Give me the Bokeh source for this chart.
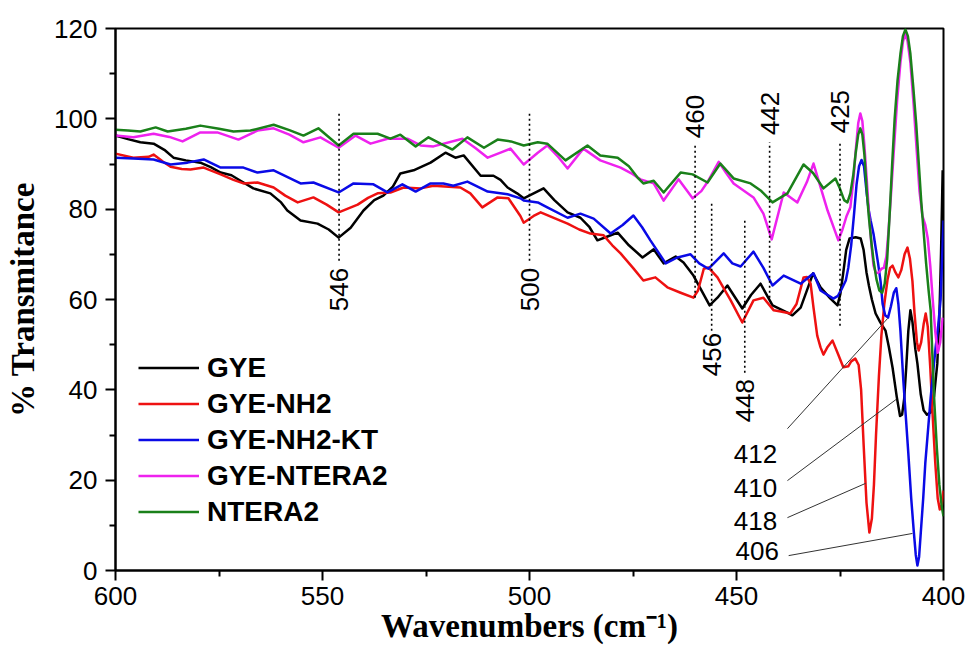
import math
from bokeh.plotting import figure
from bokeh.models import Range1d, FixedTicker, Legend, LegendItem
from bokeh.core.properties import value
from bokeh.embed import file_html
from bokeh.resources import INLINE

# ---------------- data ----------------
gye_x = [600, 597, 594, 590.8, 588, 586, 583, 579.5, 577, 574.6, 572, 569.8, 566.7, 562.6, 560, 558.5,
         555.3, 551.2, 548.5, 546.1, 543.2, 540.1, 537.5, 535.3, 533, 531.2, 528, 523.9, 520.3, 517.9,
         515.9, 511.8, 508.7, 507, 505.3, 503, 501.4, 499, 496.6, 494, 490.8, 487.7, 485.5, 483.6, 481,
         478.7, 476, 472.7, 470, 467.6, 464.7, 462.8, 460.4, 458.7, 456.5, 454.6, 452.2, 448.6, 446.5,
         444.2, 441.3, 437.7, 436.5, 434.5, 431.5, 429.7, 427.3, 425.6, 424.9, 424.2, 423.5, 422.7, 421.2,
         420, 419.3, 418.6, 418, 417.3, 416.4, 415.3, 414, 413.2, 412.3, 411.3, 410.5, 410, 409.5, 409,
         408.5, 408, 407.5, 406.8, 406.3, 405.5, 404.8, 404, 403.1, 402.3, 401.5, 401, 400.6, 400.2]
gye_y = [96.3, 95.5, 94.8, 94.5, 93, 91.4, 90.8, 90.3, 89.3, 88.1, 87.5, 86.3, 84.6, 83.5, 81.5, 79.7,
         77.5, 76.8, 75.5, 73.7, 75.9, 79.7, 82, 83, 85, 87.9, 88.6, 90.3, 92.5, 91.4,
         91.9, 87.4, 87.4, 86.5, 84.8, 83.5, 82.4, 83.5, 84.6, 82, 79.3, 78.1, 76, 73.1, 74,
         74.8, 72, 69.3, 71.1, 68, 69.5, 68.2, 65.3, 62.4, 58.7, 60.4, 63.1, 58, 61,
         63.5, 58.7, 57.1, 56.5, 58.2, 65.8, 62.7, 60.2, 58.7, 61.3, 66, 71, 73.5, 73.8,
         73.5, 71, 66, 63, 60, 56.9, 55, 53.1, 49.5, 44.9, 38.5, 34.2, 34.5, 38, 45,
         53, 57.6, 55, 49, 45.8, 39, 35.5, 34.5, 35, 38.5, 45.8, 56, 70, 88.6]

nh2_x = [600, 595.7, 592, 590.8, 588.5, 586.7, 584, 581.9, 578.7, 574.6, 571.5, 569.1, 565.7, 561.8, 559,
         556, 552.2, 549, 546.1, 541.5, 539, 536.7, 533.6, 530.4, 526.3, 523.2, 516.7, 514.3, 511.4,
         507.7, 505.1, 502.2, 501.4, 499, 497.3, 494, 490.8, 488, 485.3, 482.1, 480, 478, 475, 472.5,
         469.6, 466.7, 463.5, 460.4, 459.3, 457.9, 456.8, 454.6, 451.4, 448.6, 445.9, 443.5, 441, 439,
         437, 435.5, 433.8, 433, 432.1, 431.4, 430.5, 429.7, 429, 428, 426.8, 425.5, 424.2, 423, 422.3,
         421.3, 420.5, 419.9, 419.3, 418.6, 417.9, 417.3, 416.8, 416.3, 415.6, 415, 414.3, 413.5, 412.9,
         412.3, 411.6, 410.9, 410.2, 409.4, 408.7, 408.1, 407.5, 407, 406.4, 406, 405.4, 404.8, 404.3,
         403.8, 403.2, 402.6, 402, 401.4, 400.9, 400.4, 400]
nh2_y = [92.3, 91.4, 91.6, 92.1, 90.5, 89.4, 88.9, 88.8, 89.2, 87.7, 86.5, 85.7, 85.9, 84.8, 83,
         81.5, 82.6, 81, 79.3, 81, 82.5, 83.5, 83.7, 84.8, 84.6, 85.2, 84.8, 83.5, 80.4,
         82.6, 82.4, 78.5, 77, 78.5, 79.3, 78, 76.8, 75.5, 74.6, 74.2, 72, 70.2, 67, 64.2,
         64.9, 62.7, 61.5, 60.4, 62, 66.8, 67.1, 64.9, 59.8, 54.9, 59.8, 60.4, 57.6, 57.3,
         56.9, 59, 64.9, 65, 63.5, 58.2, 52, 49.4, 47.8, 49.5, 50.9, 48, 45, 45.2, 46.3,
         46.9, 45.5, 40, 28, 15, 8.4, 11.5, 19, 30, 43, 52, 59, 64.5, 67,
         67.5, 66, 64.9, 66.5, 70, 71.5, 69, 64, 57, 50.5, 48.7, 50.5, 54.5, 56.9,
         54, 45, 34, 24, 16, 13.5, 14.5, 17.7]

kt_x = [600, 595.7, 590.8, 586.7, 582.6, 578.7, 574.6, 569.1, 565.7, 561.8, 555.3, 552.2, 546.1, 542.5,
        537.7, 534.3, 530.7, 527.5, 523.9, 520.8, 518.4, 515, 510.1, 505.3, 502.2, 501.4, 498, 495.7,
        490.8, 487.7, 484.5, 480.4, 477.5, 474.9, 472.8, 470.8, 467.1, 464.3, 461.1, 459, 456.8, 453.1,
        451, 449, 445.9, 443.5, 441.3, 438.6, 434.5, 431.4, 429.7, 426.6, 425.5, 424.5, 423.6, 423,
        422.3, 421.6, 421, 420.4, 419.8, 419.2, 418.6, 418.1, 417.6, 416.9, 416.4, 415.8, 415.2, 414.7,
        414.1, 413.4, 412.7, 412, 411.4, 410.9, 410.4, 409.7, 409.1, 408.5, 407.8, 407.2, 406.7, 406.3,
        405.9, 405.5, 404.9, 404.4, 403.7, 403.1, 402.5, 401.9, 401.3, 400.7, 400.3, 400]
kt_y = [91.4, 91.2, 91, 89.9, 90.3, 91, 89.2, 89.2, 88.1, 88.6, 85.7, 85.9, 83.7, 85.7,
        85.5, 83.7, 85.5, 83.9, 85.7, 85.7, 85.2, 86.1, 83.9, 83.3, 82.4, 81.9, 81.5, 80.4,
        78.1, 79, 77.9, 74.6, 76.5, 78.6, 76, 73.1, 68, 69.3, 70, 68, 66.8, 70.2,
        68, 67.3, 70.6, 67, 63.1, 65.3, 63.5, 65.8, 62, 60.2, 60.8, 62.5, 64.2, 67,
        72, 79, 85.5, 89.5, 90.9, 89.5, 84, 80, 77.5, 74.5, 71.5, 68, 64, 59,
        56.5, 56, 58.5, 61.5, 62.5, 59, 53, 42, 34, 26, 16, 8.9, 3.5, 1.1,
        3, 8.2, 16, 23.7, 31.5, 38.3, 44, 49.4, 54, 60, 70, 77.5]

gn_x = [600, 595.7, 590.8, 587, 583.8, 579.5, 575.4, 570.3, 565.7, 561.8, 558, 554.6, 550.5, 546.1, 542,
        538.4, 534.3, 529.5, 526.3, 523.2, 516.2, 513, 510.1, 507, 504.6, 501.4, 498, 495.7, 493,
        490.8, 487, 482.9, 478, 475.5, 473.2, 470, 467.6, 464, 460.6, 458.5, 456.8, 454.3, 452.5,
        450.7, 445.9, 443.5, 441.5, 438.6, 435.3, 433, 431.4, 428, 425.4, 424.4, 423.4, 422.5, 421.8,
        421.2, 420.6, 420.1, 419.6, 419.1, 418.5, 418, 417.4, 416.9, 416.3, 415.6, 415, 414.4, 413.8,
        413.3, 412.7, 412, 411.2, 410.4, 409.8, 409.3, 408.7, 408, 407.2, 406.4, 405.8, 405.1, 404.4,
        403.8, 403.2, 402.6, 402, 401.4, 400.8, 400.2]
gn_y = [96.3, 95.9, 96.7, 96, 95, 97, 97, 95.4, 97.4, 97.9, 96.5, 94.8, 95.9, 93.6, 96.3,
        94.5, 95.6, 95.6, 94.1, 93.9, 95.6, 93.5, 91.4, 92.5, 93.4, 89.9, 92.5, 94.1, 91.5,
        89, 93.4, 90.8, 89.2, 88, 86.6, 85.7, 81.9, 86.6, 82.4, 84, 86.3, 90.5, 88,
        85.7, 82.6, 79, 73.3, 83.7, 81.5, 86, 90.1, 79.7, 73.1, 75.5, 78.5, 80.4, 86,
        93, 99, 101.2, 99.5, 94, 86, 79, 72, 67.5, 65.8, 66, 66.8, 67, 69.5,
        75, 83, 93, 104, 112.5, 117, 118.8, 117.3, 112.5, 103, 92, 84, 78.5, 76.5,
        73.5, 67.5, 60, 53, 48.2, 50.5, 56]

nt_x = [600, 597, 594, 590.3, 587.4, 583, 579.5, 575, 571.5, 567.4, 561.8, 558, 554.6, 551, 546.1,
        542.5, 536.7, 533.6, 531.2, 527.5, 524.4, 521.5, 518.6, 515, 511, 507.7, 504.5, 501.4, 498,
        495.7, 491.3, 486, 482.9, 478.7, 476, 473.9, 472.5, 470, 467.6, 463.5, 460.6, 457, 453.9,
        450.7, 446.6, 444, 441.3, 437.7, 433.8, 431.5, 429, 426.1, 425, 424, 423.2, 422.5, 421.8,
        421.2, 420.6, 420.1, 419.6, 419.1, 418.5, 418, 417.4, 416.9, 416.2, 415.5, 414.8, 414.2, 413.6,
        413, 412.4, 411.8, 411.1, 410.4, 409.8, 409.2, 408.6, 408, 407.3, 406.6, 406, 405.4, 404.8,
        404.2, 403.6, 403.1, 402.7, 402.2, 401.6, 401, 400.4, 400]
nt_y = [97.6, 97.4, 97.2, 98.1, 97.2, 97.8, 98.5, 97.8, 97.2, 97.4, 98.7, 97.5, 96.3, 97.9, 94.1,
        96.7, 96.7, 95.6, 96.5, 93.9, 95.9, 94.5, 93.2, 95.9, 93.6, 95.4, 95, 94.1, 94.8,
        94.5, 90.8, 94.1, 91.9, 91.4, 89.5, 87, 85.7, 86.3, 83.7, 88.1, 87.7, 85.9, 90.1,
        86.8, 85.7, 84, 81.5, 83.5, 89.9, 88, 84.6, 86.8, 84.5, 82, 81.5, 83.5, 87.5,
        92.5, 96.5, 97.9, 96.5, 92, 83.5, 78, 72.5, 68.6, 64.5, 62, 61.5, 63.5, 69,
        79, 90, 100, 108.5, 114.4, 118.3, 119.8, 118.3, 114.4, 107, 99, 90.5, 82, 75,
        68, 62, 57.6, 48, 37, 27, 19, 14, 12]

series_names = ["GYE", "GYE-NH2", "GYE-NH2-KT", "GYE-NTERA2", "NTERA2"]
series_x = [gye_x, nh2_x, kt_x, gn_x, nt_x]
series_y = [gye_y, nh2_y, kt_y, gn_y, nt_y]
series_colors = ["#000000", "#ee1111", "#0a0ae6", "#ee22ee", "#1a801a"]

# peak marks (wavenumber) and callout label texts
peak_marks = [546, 500, 460, 456, 448, 442, 425]
callout_texts = ["412", "410", "418", "406"]

x_ticks = [600, 550, 500, 450, 400]
x_minor = [575, 525, 475, 425]
y_ticks = [0, 20, 40, 60, 80, 100, 120]
y_minor = [10, 30, 50, 70, 90, 110]

# ---------------- layout / style ----------------
mark_y0 = [68.6, 68.6, 60.4, 53.1, 43.8, 60.4, 54.2]
mark_y1 = [101.8, 101.8, 94.1, 81.2, 77.5, 94.8, 94.5]
mark_label_y = [62.2, 62.2, 100.5, 47.8, 37.6, 101.2, 101.6]
call_tx = [445.4, 445.4, 445.4, 445.0]
call_ty = [25.9, 18.3, 11.0, 4.3]
lead_x0 = [437.7, 437.7, 437.7, 437.4]
lead_y0 = [31.4, 19.9, 11.7, 3.3]
lead_x1 = [413.5, 411.4, 418.8, 407.5]
lead_y1 = [55.8, 37.9, 19.3, 8.2]

SANS = "Liberation Sans"
SERIF = "Liberation Serif"

p = figure(width=968, height=650, output_backend="svg", toolbar_location=None,
           x_range=Range1d(600, 400), y_range=Range1d(0, 120),
           min_border_left=115, min_border_right=25, min_border_top=28, min_border_bottom=80)
p.background_fill_color = "white"
p.border_fill_color = "white"
p.outline_line_color = "black"
p.outline_line_width = 2
p.xgrid.visible = False
p.ygrid.visible = False

p.xaxis.ticker = FixedTicker(ticks=x_ticks, minor_ticks=x_minor)
p.yaxis.ticker = FixedTicker(ticks=y_ticks, minor_ticks=y_minor)
for ax in (p.xaxis[0], p.yaxis[0]):
    ax.axis_line_width = 2
    ax.major_tick_line_width = 2
    ax.minor_tick_line_width = 2
    ax.major_tick_out = 10
    ax.major_tick_in = 0
    ax.minor_tick_out = 6
    ax.minor_tick_in = 0
    ax.major_label_text_font = SANS
    ax.major_label_text_font_size = "26px"
    ax.major_label_text_color = "black"
    ax.axis_label_text_font = SERIF
    ax.axis_label_text_font_style = "bold"
    ax.axis_label_text_font_size = "33px"
    ax.axis_label_text_color = "black"
p.xaxis.axis_label = "Wavenumbers (cm\u207b\u00b9)"
p.yaxis.axis_label = "% Transmitance"
p.xaxis.major_label_standoff = 6
p.yaxis.major_label_standoff = 8
p.xaxis.axis_label_standoff = 0
p.yaxis.axis_label_standoff = 10

items = []
for name, xs, ys, col in zip(series_names, series_x, series_y, series_colors):
    r = p.line(xs, ys, line_color=col, line_width=2.5, line_join="round")
    items.append(LegendItem(label=name, renderers=[r]))

p.segment(x0=peak_marks, y0=mark_y0, x1=peak_marks, y1=mark_y1,
          line_color="black", line_width=1.6, line_dash="2 3")
p.text(x=peak_marks, y=mark_label_y, text=[str(v) for v in peak_marks], angle=math.pi / 2,
       text_align="center", text_baseline="middle", text_font=value(SANS),
       text_font_size="26px", text_color="black")

p.segment(x0=lead_x0, y0=lead_y0, x1=lead_x1, y1=lead_y1, line_color="#333333", line_width=1)
p.text(x=call_tx, y=call_ty, text=callout_texts, text_align="center", text_baseline="middle",
       text_font=value(SANS), text_font_size="26px", text_color="black")

legend = Legend(items=items, location=(23, 42))
legend.label_text_font = SANS
legend.label_text_font_style = "bold"
legend.label_text_font_size = "28px"
legend.label_text_color = "black"
legend.glyph_width = 61
legend.glyph_height = 33
legend.label_height = 33
legend.spacing = 3
legend.label_standoff = 8
legend.padding = 0
legend.margin = 0
legend.border_line_alpha = 0
legend.background_fill_alpha = 0
p.add_layout(legend, "center")

open("out.html", "w").write(file_html(p, INLINE))
